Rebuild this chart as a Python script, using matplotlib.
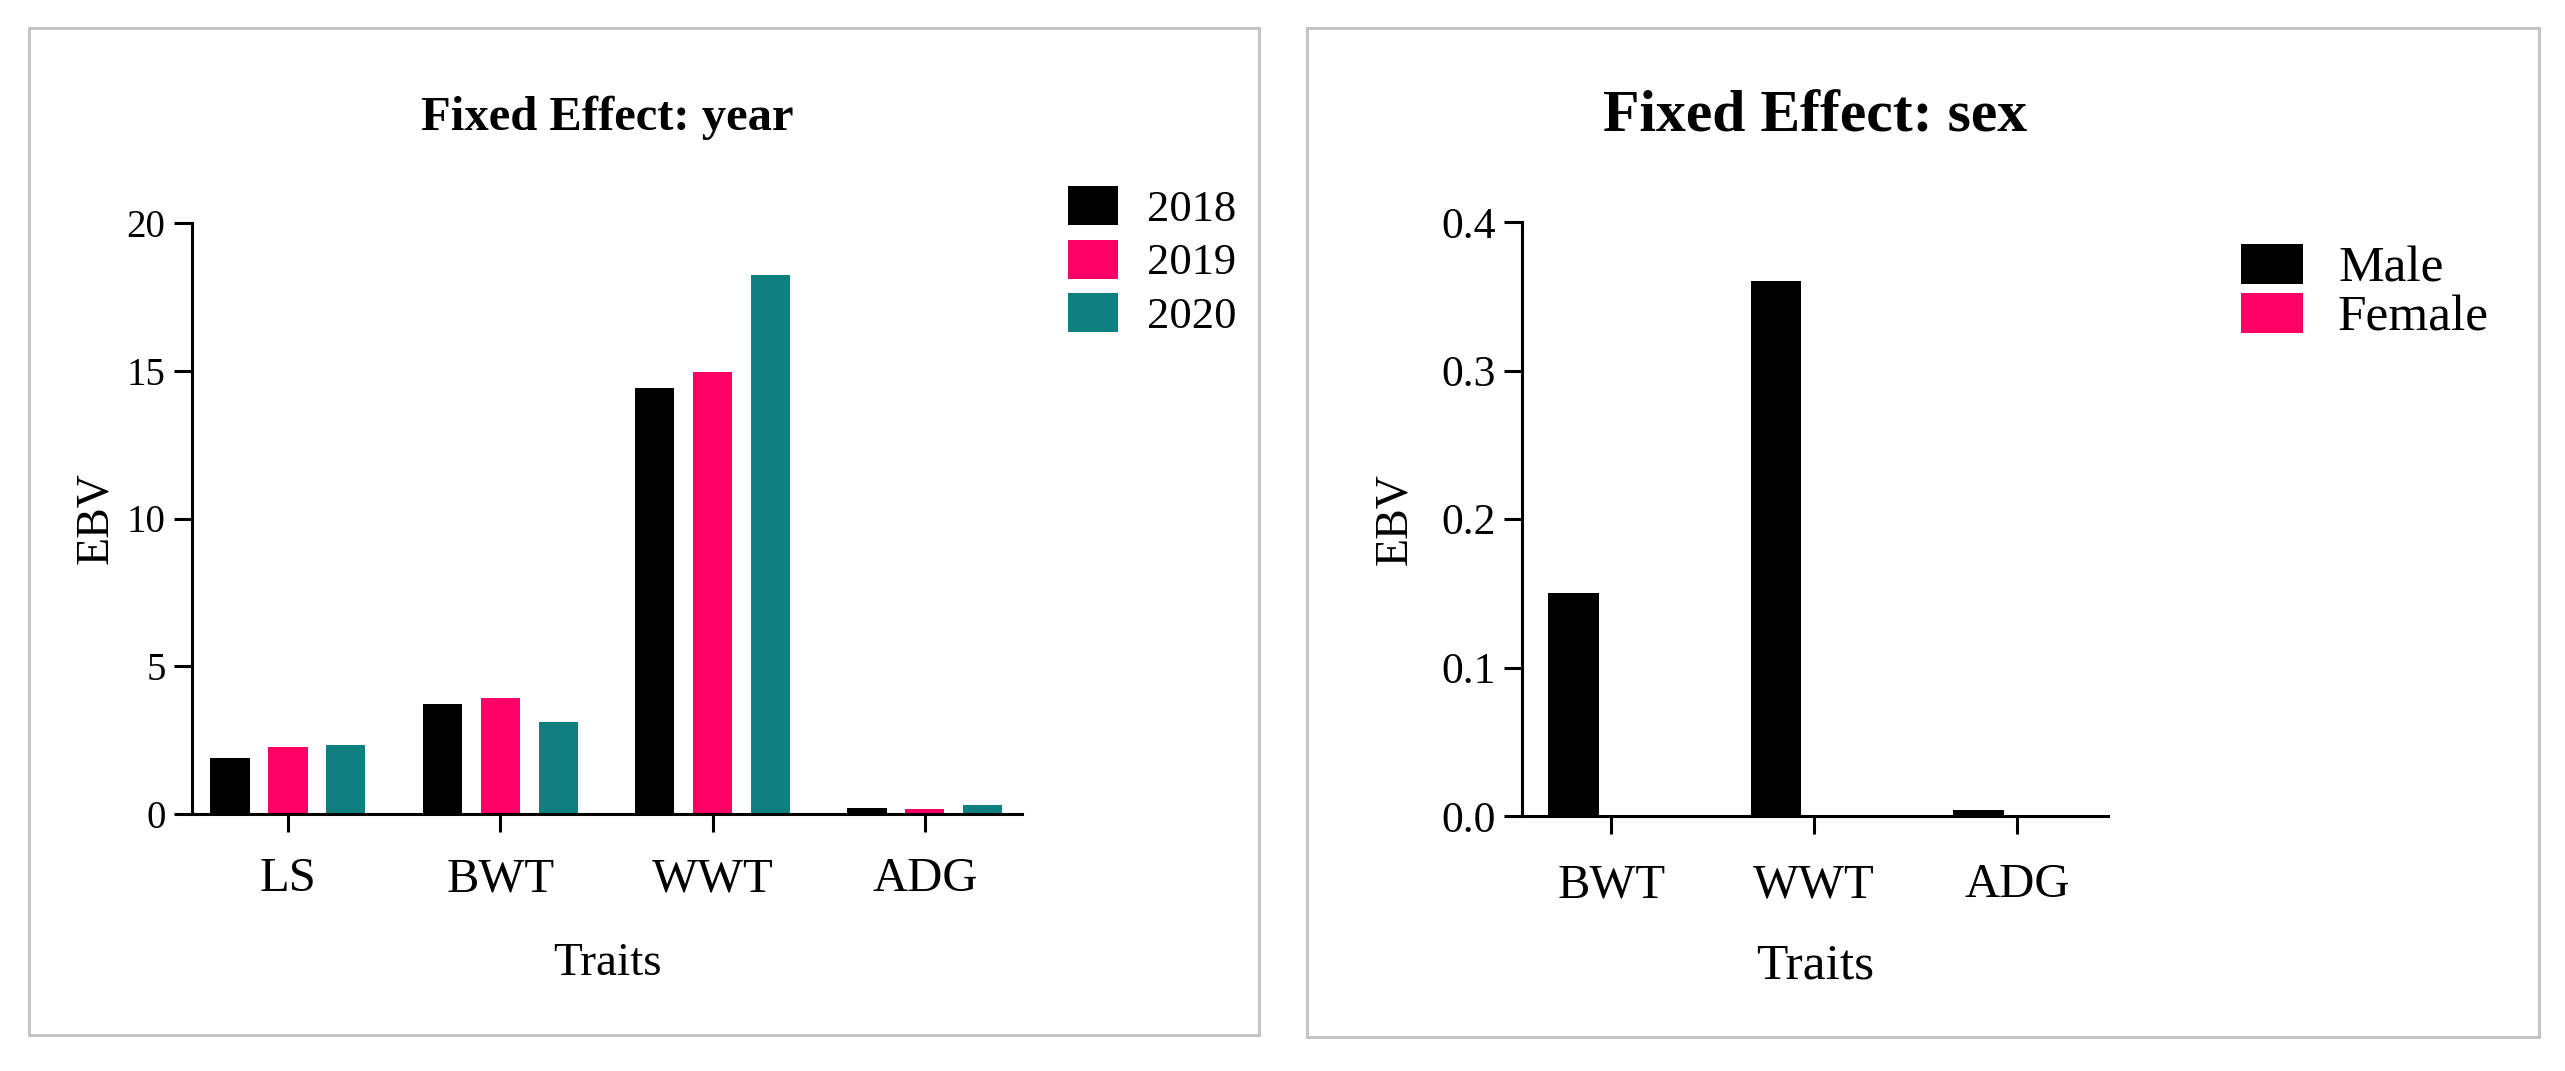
import matplotlib
matplotlib.use('Agg')
import matplotlib.pyplot as plt
import matplotlib.patches as mpatches
import numpy as np

plt.rcParams['font.family'] = ['Liberation Serif', 'DejaVu Serif']

# Left chart data: fixed effect of year
year_traits = ['LS', 'BWT', 'WWT', 'ADG']
years = ['2018', '2019', '2020']
ebv_2018 = [1.89, 3.72, 14.4, 0.2]
ebv_2019 = [2.27, 3.93, 14.97, 0.17]
ebv_2020 = [2.33, 3.10, 18.24, 0.3]
year_colors = ['#000000', '#ff0066', '#0f7f7f']

# Right chart data: fixed effect of sex
sex_traits = ['BWT', 'WWT', 'ADG']
sexes = ['Male', 'Female']
ebv_male = [0.15, 0.36, 0.004]
ebv_female = [0.0, 0.0, 0.0]
sex_colors = ['#000000', '#ff0066']

W, H = 2565, 1071
fig = plt.figure(figsize=(W / 100, H / 100), dpi=100)


def px_box(x0, y_top, x1, y_bot):
    return [x0 / W, 1 - y_bot / H, (x1 - x0) / W, (y_bot - y_top) / H]


# panel frames
for x0, y0, x1, y1 in [(29, 28, 1259, 1035), (1307, 28, 2539, 1037)]:
    fig.patches.append(mpatches.Rectangle((x0 / W, 1 - y1 / H), (x1 - x0) / W, (y1 - y0) / H,
                                          transform=fig.transFigure, fill=False,
                                          edgecolor='#c4c4c4', lw=2.2))


def style_axes(ax, tick_pad_x, tick_fs, xtick_fs):
    for s in ['top', 'right']:
        ax.spines[s].set_visible(False)
    for s in ['left', 'bottom']:
        ax.spines[s].set_linewidth(2.2)
    ax.tick_params(axis='both', direction='out', length=13, width=2.2, color='black')
    ax.tick_params(axis='y', pad=6, labelsize=tick_fs)
    ax.tick_params(axis='x', pad=tick_pad_x, labelsize=xtick_fs)


# ---- left: year ----
ax1 = fig.add_axes(px_box(192, 223, 1022, 814))
x = np.arange(len(year_traits))
bw = 0.184
off = 0.273
for i, (vals, c, lab) in enumerate(zip([ebv_2018, ebv_2019, ebv_2020], year_colors, years)):
    ax1.bar(x + (i - 1) * off, vals, width=bw, color=c, label=lab)
ax1.set_xlim(-0.452, 3.457)
ax1.set_ylim(0, 20)
ax1.set_yticks([0, 5, 10, 15, 20])
ax1.set_xticks(x)
ax1.set_xticklabels(year_traits)
style_axes(ax1, 18, 28, 35)
ax1.set_title('Fixed Effect: year', fontsize=35, fontweight='bold', pad=67)
ax1.set_xlabel('Traits', fontsize=34)
ax1.xaxis.set_label_coords(0.5, -0.2166)
ax1.set_ylabel('EBV', fontsize=33)
ax1.yaxis.set_label_coords(-0.090, 0.5)
fs = 32 * 100 / 72
fig.legend(handles=ax1.get_legend_handles_labels()[0], labels=years,
           loc='upper left', bbox_to_anchor=(1068 / W, 1 - 186 / H),
           frameon=False, fontsize=32, borderpad=0, borderaxespad=0,
           handlelength=50 / fs, handleheight=43 / fs, handletextpad=29 / fs,
           labelspacing=10 / fs)

# ---- right: sex ----
ax2 = fig.add_axes(px_box(1522, 222, 2108, 816))
x2 = np.arange(len(sex_traits))
bw2 = 0.25
off2 = 0.187
ax2.bar(x2 - off2, ebv_male, width=bw2, color=sex_colors[0], label=sexes[0])
ax2.bar(x2 + off2, ebv_female, width=bw2, color=sex_colors[1], label=sexes[1])
ax2.set_xlim(-0.44, 2.45)
ax2.set_ylim(0, 0.4)
ax2.set_yticks([0.0, 0.1, 0.2, 0.3, 0.4])
ax2.set_yticklabels(['0.0', '0.1', '0.2', '0.3', '0.4'])
ax2.set_xticks(x2)
ax2.set_xticklabels(sex_traits)
style_axes(ax2, 21, 31.5, 35)
ax2.set_title('Fixed Effect: sex', fontsize=43, fontweight='bold', pad=65)
ax2.set_xlabel('Traits', fontsize=37)
ax2.xaxis.set_label_coords(0.5, -0.214)
ax2.set_ylabel('EBV', fontsize=33)
ax2.yaxis.set_label_coords(-0.181, 0.5)
fs2 = 37 * 100 / 72
fig.legend(handles=ax2.get_legend_handles_labels()[0], labels=sexes,
           loc='upper left', bbox_to_anchor=(2241 / W, 1 - 244 / H),
           frameon=False, fontsize=37, borderpad=0, borderaxespad=0,
           handlelength=62 / fs2, handleheight=42 / fs2, handletextpad=35 / fs2,
           labelspacing=0)

fig.savefig('out.png', dpi=100, facecolor='white')
